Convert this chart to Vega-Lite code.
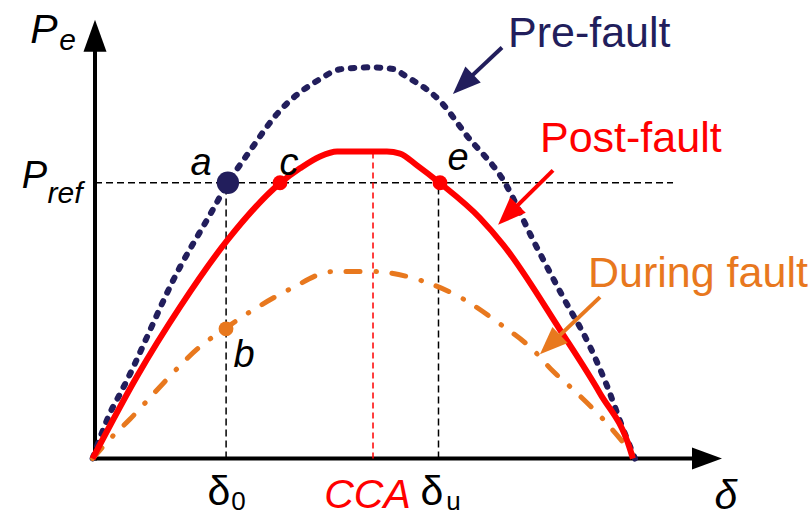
{
  "$schema": "https://vega.github.io/schema/vega-lite/v6.json",
  "width": 811,
  "height": 517,
  "autosize": {"type": "fit", "contains": "padding"},
  "padding": 0,
  "background": "white",
  "config": {"view": {"stroke": null}, "text": {"font": "Liberation Sans"}},
  "encoding": {
    "x": {"field": "x", "type": "quantitative", "scale": {"domain": [-31.667, 238.667], "nice": false, "zero": false}, "axis": null},
    "y": {"field": "y", "type": "quantitative", "scale": {"domain": [-0.136709, 1.172152], "nice": false, "zero": false}, "axis": null}
  },
  "layer": [
    {
      "data": {"values": [
        {"x": 0, "y": -0.005, "x2": 0, "y2": 1.0709},
        {"x": -0.3, "y": 0, "x2": 200, "y2": 0}
      ]},
      "mark": {"type": "rule", "color": "black", "strokeWidth": 4},
      "encoding": {"x2": {"field": "x2"}, "y2": {"field": "y2"}}
    },
    {
      "data": {"values": [{"x": 0, "y": 1.081}]},
      "mark": {"type": "point", "shape": "M0,-1L-0.72,1L0.72,1Z", "size": 1024, "filled": true, "color": "black", "opacity": 1},
      "encoding": {}
    },
    {
      "data": {"values": [{"x": 204, "y": 0}]},
      "mark": {"type": "point", "shape": "M1,0L-1,-0.73L-1,0.73Z", "size": 900, "filled": true, "color": "black", "opacity": 1},
      "encoding": {}
    },
    {
      "data": {"values": [
        {"x": 0, "y": 0.705, "x2": 192.67, "y2": 0.705},
        {"x": 43.7, "y": 0, "x2": 43.7, "y2": 0.705},
        {"x": 114.5, "y": 0, "x2": 114.5, "y2": 0.705}
      ]},
      "mark": {"type": "rule", "color": "black", "strokeWidth": 1.5, "strokeDash": [7, 4]},
      "encoding": {"x2": {"field": "x2"}, "y2": {"field": "y2"}}
    },
    {
      "data": {"values": [{"x": 92.67, "y": 0, "x2": 92.67, "y2": 0.785}]},
      "mark": {"type": "rule", "color": "#ff0000", "strokeWidth": 1.5, "strokeDash": [6, 4]},
      "encoding": {"x2": {"field": "x2"}, "y2": {"field": "y2"}}
    },
    {
      "data": {"values": [
        {"x": -0.8, "y": 0}, {"x": 5.67, "y": 0.127}, {"x": 8.33, "y": 0.165},
        {"x": 28.3, "y": 0.489}, {"x": 38.3, "y": 0.623}, {"x": 44.3, "y": 0.704},
        {"x": 51.7, "y": 0.787}, {"x": 60.7, "y": 0.881}, {"x": 75, "y": 0.97},
        {"x": 81.7, "y": 0.995}, {"x": 91.7, "y": 1.0}, {"x": 100, "y": 0.995},
        {"x": 102.7, "y": 0.982}, {"x": 115, "y": 0.914}, {"x": 124, "y": 0.825},
        {"x": 136.7, "y": 0.704}, {"x": 146, "y": 0.559}, {"x": 156, "y": 0.413},
        {"x": 165, "y": 0.286}, {"x": 170.7, "y": 0.185}, {"x": 176, "y": 0.076},
        {"x": 180, "y": 0}
      ]},
      "mark": {"type": "line", "color": "#221e5c", "strokeWidth": 6, "strokeDash": [3.5, 9.5], "strokeCap": "round", "interpolate": "monotone"},
      "encoding": {}
    },
    {
      "data": {"values": [
        {"x": -0.8, "y": 0}, {"x": 6, "y": 0.058}, {"x": 11.7, "y": 0.101},
        {"x": 17.3, "y": 0.147}, {"x": 22.7, "y": 0.192}, {"x": 35, "y": 0.286},
        {"x": 43.3, "y": 0.332}, {"x": 51.7, "y": 0.375}, {"x": 65, "y": 0.433},
        {"x": 79.3, "y": 0.478}, {"x": 92.7, "y": 0.478}, {"x": 108.3, "y": 0.456},
        {"x": 122.7, "y": 0.408}, {"x": 135, "y": 0.344}, {"x": 146, "y": 0.278},
        {"x": 152.7, "y": 0.223}, {"x": 159.3, "y": 0.177}, {"x": 169.3, "y": 0.101},
        {"x": 175, "y": 0.051}, {"x": 180, "y": 0.003}
      ]},
      "mark": {"type": "line", "color": "#e8781e", "strokeWidth": 5, "strokeDash": [14, 16, 0.5, 15.5], "strokeCap": "round", "interpolate": "monotone"},
      "encoding": {}
    },
    {
      "data": {"values": [
        {"x": -0.8, "y": 0}, {"x": 14, "y": 0.21}, {"x": 28.3, "y": 0.387},
        {"x": 44, "y": 0.557}, {"x": 61.7, "y": 0.704}, {"x": 68.33, "y": 0.7418},
        {"x": 75, "y": 0.7722}, {"x": 80.7, "y": 0.785}, {"x": 97.3, "y": 0.785},
        {"x": 101.67, "y": 0.7797}, {"x": 107.33, "y": 0.7494},
        {"x": 115, "y": 0.704}, {"x": 128.3, "y": 0.615}, {"x": 136, "y": 0.547},
        {"x": 155, "y": 0.329}, {"x": 168.3, "y": 0.167}, {"x": 178.3, "y": 0.025},
        {"x": 179.3, "y": 0}
      ]},
      "mark": {"type": "line", "color": "#ff0000", "strokeWidth": 6, "interpolate": "monotone"},
      "encoding": {}
    },
    {
      "data": {"values": [{"x": 44.3, "y": 0.705}]},
      "mark": {"type": "point", "shape": "circle", "size": 500, "filled": true, "color": "#221e5c", "opacity": 1},
      "encoding": {}
    },
    {
      "data": {"values": [{"x": 61.67, "y": 0.705}, {"x": 115, "y": 0.705}]},
      "mark": {"type": "point", "shape": "circle", "size": 220, "filled": true, "color": "#ff0000", "opacity": 1},
      "encoding": {}
    },
    {
      "data": {"values": [{"x": 43.67, "y": 0.3316}]},
      "mark": {"type": "point", "shape": "circle", "size": 220, "filled": true, "color": "#e8781e", "opacity": 1},
      "encoding": {}
    },
    {
      "data": {"values": [{"x": 135.67, "y": 1.0506, "x2": 122.67, "y2": 0.957}]},
      "mark": {"type": "rule", "color": "#221e5c", "strokeWidth": 4},
      "encoding": {"x2": {"field": "x2"}, "y2": {"field": "y2"}}
    },
    {
      "data": {"values": [{"x": 122.67, "y": 0.957}]},
      "mark": {"type": "point", "shape": "M0,-1L-0.79,1L0.79,1Z", "size": 784, "angle": 226, "filled": true, "color": "#221e5c", "opacity": 1},
      "encoding": {}
    },
    {
      "data": {"values": [{"x": 152.67, "y": 0.7367, "x2": 137.67, "y2": 0.6228}]},
      "mark": {"type": "rule", "color": "#ff0000", "strokeWidth": 4},
      "encoding": {"x2": {"field": "x2"}, "y2": {"field": "y2"}}
    },
    {
      "data": {"values": [{"x": 137.67, "y": 0.6228}]},
      "mark": {"type": "point", "shape": "M0,-1L-0.79,1L0.79,1Z", "size": 784, "angle": 225, "filled": true, "color": "#ff0000", "opacity": 1},
      "encoding": {}
    },
    {
      "data": {"values": [{"x": 168.33, "y": 0.4127, "x2": 151.67, "y2": 0.2911}]},
      "mark": {"type": "rule", "color": "#e8781e", "strokeWidth": 4},
      "encoding": {"x2": {"field": "x2"}, "y2": {"field": "y2"}}
    },
    {
      "data": {"values": [{"x": 151.67, "y": 0.2911}]},
      "mark": {"type": "point", "shape": "M0,-1L-0.79,1L0.79,1Z", "size": 784, "angle": 226, "filled": true, "color": "#e8781e", "opacity": 1},
      "encoding": {}
    },
    {
      "data": {"values": [{"x": -17, "y": 1.0633, "t": "P"}, {"x": 210.33, "y": -0.1291, "t": "δ"}]},
      "mark": {"type": "text", "fontSize": 41, "fontStyle": "italic", "align": "center", "baseline": "alphabetic", "color": "black"},
      "encoding": {"text": {"field": "t"}}
    },
    {
      "data": {"values": [
        {"x": -20.17, "y": 0.6911, "t": "P"},
        {"x": 35.33, "y": 0.7241, "t": "a"},
        {"x": 64.67, "y": 0.7241, "t": "c"},
        {"x": 121, "y": 0.7367, "t": "e"},
        {"x": 49.67, "y": 0.2329, "t": "b"}
      ]},
      "mark": {"type": "text", "fontSize": 38, "fontStyle": "italic", "align": "center", "baseline": "alphabetic", "color": "black"},
      "encoding": {"text": {"field": "t"}}
    },
    {
      "data": {"values": [{"x": -9.17, "y": 1.0456, "t": "e"}, {"x": -10, "y": 0.6532, "t": "ref"}]},
      "mark": {"type": "text", "fontSize": 30, "fontStyle": "italic", "align": "center", "baseline": "alphabetic", "color": "black"},
      "encoding": {"text": {"field": "t"}}
    },
    {
      "data": {"values": [{"x": 41.33, "y": -0.119, "t": "δ"}, {"x": 112.33, "y": -0.119, "t": "δ"}]},
      "mark": {"type": "text", "fontSize": 41, "align": "center", "baseline": "alphabetic", "color": "black"},
      "encoding": {"text": {"field": "t"}}
    },
    {
      "data": {"values": [{"x": 47.83, "y": -0.1316, "t": "0"}, {"x": 119.5, "y": -0.1316, "t": "u"}]},
      "mark": {"type": "text", "fontSize": 26, "align": "center", "baseline": "alphabetic", "color": "black"},
      "encoding": {"text": {"field": "t"}}
    },
    {
      "data": {"values": [{"x": 90.83, "y": -0.1266, "t": "CCA"}]},
      "mark": {"type": "text", "fontSize": 41, "fontStyle": "italic", "align": "center", "baseline": "alphabetic", "color": "#ff0000"},
      "encoding": {"text": {"field": "t"}}
    },
    {
      "data": {"values": [{"x": 137.67, "y": 1.0532, "t": "Pre-fault"}]},
      "mark": {"type": "text", "fontSize": 43, "align": "left", "baseline": "alphabetic", "color": "#221e5c"},
      "encoding": {"text": {"field": "t"}}
    },
    {
      "data": {"values": [{"x": 148.33, "y": 0.7848, "t": "Post-fault"}]},
      "mark": {"type": "text", "fontSize": 43, "align": "left", "baseline": "alphabetic", "color": "#ff0000"},
      "encoding": {"text": {"field": "t"}}
    },
    {
      "data": {"values": [{"x": 164.33, "y": 0.438, "t": "During fault"}]},
      "mark": {"type": "text", "fontSize": 43, "align": "left", "baseline": "alphabetic", "color": "#e8781e"},
      "encoding": {"text": {"field": "t"}}
    }
  ]
}
